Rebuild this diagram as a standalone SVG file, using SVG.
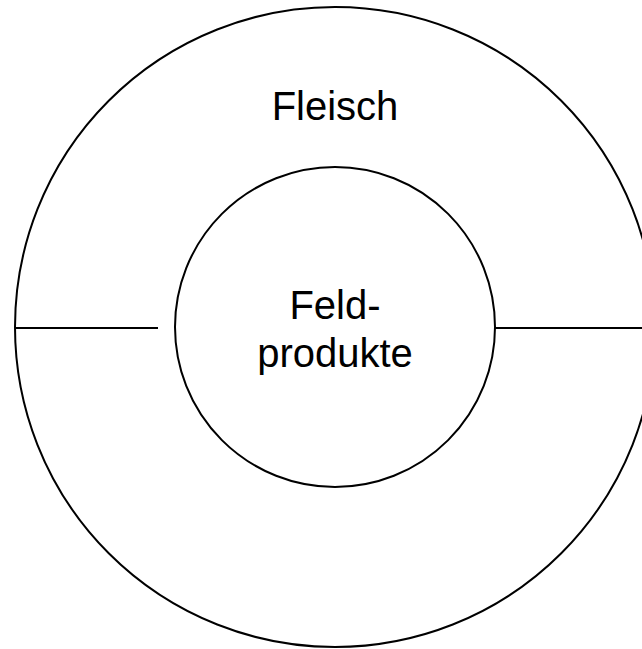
<svg xmlns="http://www.w3.org/2000/svg" width="642" height="649" viewBox="0 0 642 649">
<style>
.ring{fill:none;stroke:#000;stroke-width:2}
.lbl{font-family:"Liberation Sans",Arial,sans-serif;font-size:40px;fill:#000;text-anchor:middle}
</style>
<rect width="642" height="649" fill="#fff"/>
<g id="outer">
<circle class="ring" cx="335" cy="327" r="320"/>
<text class="lbl" x="335" y="120">Fleisch</text>
</g>
<g id="inner">
<circle class="ring" cx="335" cy="327" r="160"/>
<text class="lbl" x="335" y="319">Feld-</text>
<text class="lbl" x="335" y="367">produkte</text>
</g>
<g id="connectors">
<line class="ring" x1="15" y1="328" x2="158" y2="328"/>
<line class="ring" x1="495" y1="328" x2="642" y2="328"/>
</g>
</svg>
